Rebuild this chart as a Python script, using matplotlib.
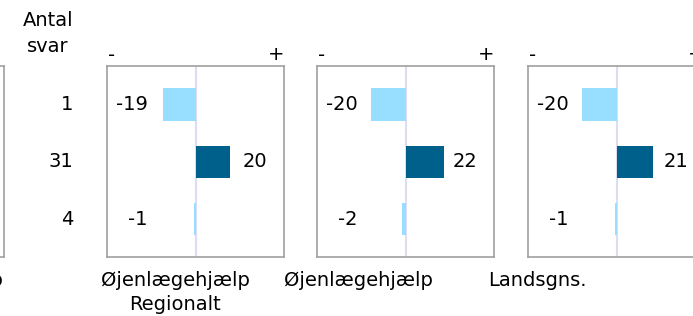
import matplotlib
matplotlib.use("Agg")
import matplotlib.pyplot as plt

# Data
rows = ["1", "31", "4"]           # Antal svar
panel_labels = ["Øjenlægehjælp\nRegionalt", "Øjenlægehjælp", "Landsgns."]
values = [
    [-19, 20, -1],
    [-20, 22, -2],
    [-20, 21, -1],
]
left_fragment_label = "Øjenlægehjælp"

LIGHT = "#97DEFF"
DARK = "#00608C"
ZERO = "#DCDCF2"
BORDER = "#A0A0A0"
FS = 14

W, H = 693, 316
fig = plt.figure(figsize=(W / 100, H / 100), dpi=100)

pw, ph = 177, 191.6
top_px = 65.7
lefts_px = [-173, 107.3, 317.3, 528]

def fx(px):
    return px / W

def fy(py):
    return 1 - py / H

axes = []
for lp in lefts_px:
    ax = fig.add_axes([fx(lp), fy(top_px + ph), pw / W, ph / H])
    ax.set_xlim(-51.3, 51.3)
    ax.set_ylim(2.66, -0.675)
    ax.set_xticks([])
    ax.set_yticks([])
    for s in ax.spines.values():
        s.set_color(BORDER)
        s.set_linewidth(1.2)
    ax.axvline(0, color=ZERO, lw=1.5, zorder=1)
    axes.append(ax)

for ax, vals, lab in zip(axes[1:], values, panel_labels):
    ypos = list(range(len(vals)))
    colors = [DARK if v > 0 else LIGHT for v in vals]
    ax.barh(ypos, vals, height=0.56, color=colors, zorder=2)
    for y, v in zip(ypos, vals):
        if v > 0:
            ax.text(27.3, y, f"{v}", ha="left", va="center", fontsize=FS)
        else:
            ax.text(-27.8, y, f"{v}", ha="right", va="center", fontsize=FS)

# - / + over each visible panel
for ax in axes[1:]:
    ax.text(4.4 / pw, 1 + 10.7 / ph, "-", transform=ax.transAxes,
            ha="center", va="center", fontsize=FS)
    ax.text((pw - 8.6) / pw, 1 + 10.7 / ph, "+", transform=ax.transAxes,
            ha="center", va="center", fontsize=FS)

# Antal svar column
fig.text(fx(48), fy(21), "Antal", ha="center", va="center", fontsize=FS)
fig.text(fx(48), fy(46), "svar", ha="center", va="center", fontsize=FS)
for i, r in enumerate(rows):
    yc = axes[1].transData.transform((0, i))[1]
    fig.text(fx(73), yc / H, r, ha="right", va="center", fontsize=FS)

# Bottom labels
label_x = [175, 358, 537]
for x, lab in zip(label_x, panel_labels):
    lines = lab.split("\n")
    for j, line in enumerate(lines):
        fig.text(fx(x), fy(280 + 25 * j), line, ha="center", va="center", fontsize=FS)
fig.text(fx(3), fy(280), left_fragment_label, ha="right", va="center", fontsize=FS)

fig.savefig("out.png", dpi=100)
